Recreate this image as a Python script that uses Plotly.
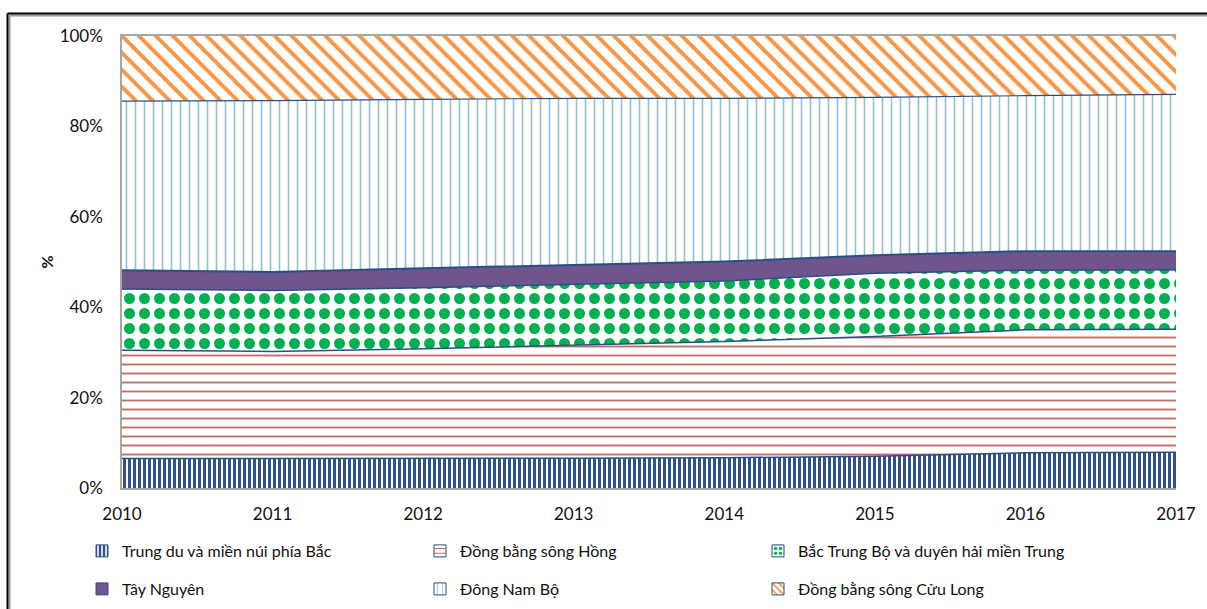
import plotly.graph_objects as go

years = [2010, 2011, 2012, 2013, 2014, 2015, 2016, 2017]

regions = [
    "Trung du và miền núi phía Bắc",
    "Đồng bằng sông Hồng",
    "Bắc Trung Bộ và duyên hải miền Trung",
    "Tây Nguyên",
    "Đông Nam Bộ",
    "Đồng bằng sông Cửu Long",
]

trung_du = [6.5, 6.5, 6.5, 6.6, 6.7, 7.0, 7.8, 7.9]
dong_bang_song_hong = [24.0, 23.7, 24.3, 25.0, 25.7, 26.5, 27.2, 27.2]
bac_trung_bo = [13.5, 13.5, 13.5, 13.5, 13.4, 14.0, 13.2, 13.2]
tay_nguyen = [4.2, 4.1, 4.3, 4.2, 4.3, 4.0, 4.2, 4.1]
dong_nam_bo = [37.4, 37.9, 37.4, 36.9, 36.1, 34.9, 34.4, 34.7]
cuu_long = [14.4, 14.3, 14.0, 13.8, 13.8, 13.6, 13.2, 12.9]

y_ticks = [0, 20, 40, 60, 80, 100]
y_ticktext = ["0%", "20%", "40%", "60%", "80%", "100%"]

series = [trung_du, dong_bang_song_hong, bac_trung_bo, tay_nguyen, dong_nam_bo, cuu_long]

FONT = "Lato"
EDGE = "#2B4F83"
TXT = "#111111"

patterns = [
    dict(shape="|", fgcolor="#2E5290", bgcolor="white", size=5, solidity=0.6, fillmode="replace"),
    dict(shape="-", fgcolor="#C26A68", bgcolor="white", size=9, solidity=0.2, fillmode="replace"),
    dict(shape=".", fgcolor="#00B050", bgcolor="white", size=15, solidity=0.42, fillmode="replace"),
    None,
    dict(shape="|", fgcolor="#92C3D1", bgcolor="white", size=9, solidity=0.18, fillmode="replace"),
    dict(shape="\\", fgcolor="#F79646", bgcolor="white", size=12, solidity=0.33, fillmode="replace"),
]
solid_fill = [None, None, None, "#6F558E", None, None]
edges = [
    dict(color=EDGE, width=1.5),
    dict(color=EDGE, width=1.5),
    dict(color=EDGE, width=1.5),
    dict(color=EDGE, width=2),
    dict(color=EDGE, width=1.2),
    dict(color="rgba(0,0,0,0)", width=0),
]
legend_ids = ["legend", "legend", "legend", "legend2", "legend2", "legend2"]

fig = go.Figure()
for name, vals, pat, sf, ln in zip(regions, series, patterns, solid_fill, edges):
    kw = dict(x=years, y=vals, name=name, mode="lines", stackgroup="one", line=ln, showlegend=False)
    if pat is not None:
        kw["fillpattern"] = pat
    if sf is not None:
        kw["fillcolor"] = sf
    fig.add_trace(go.Scatter(**kw))

# legend entries (square swatches)
for name, pat, sf, lg in zip(regions, patterns, solid_fill, legend_ids):
    mk = dict(line=dict(color=EDGE, width=1))
    if pat is not None:
        p = dict(pat)
        p["size"] = min(p["size"], 6)
        mk["pattern"] = p
        mk["color"] = "white"
    if sf is not None:
        mk["color"] = sf
    fig.add_trace(go.Bar(x=[None], y=[None], name=name, marker=mk, legend=lg, showlegend=True))

L, R, T, B = 122, 31, 36, 121
W, H = 1207, 609
pw, ph = W - L - R, H - T - B

def px(xp):
    return (xp - L) / pw

def py(yp):
    return (H - B - yp) / ph

leg_common = dict(orientation="h", xanchor="left", yanchor="middle",
                  entrywidth=293, entrywidthmode="pixels", itemwidth=30,
                  font=dict(family=FONT, size=16, color=TXT), traceorder="normal",
                  bgcolor="rgba(0,0,0,0)")

fig.update_layout(
    width=W, height=H,
    margin=dict(l=L, r=R, t=T, b=B, autoexpand=False),
    paper_bgcolor="white", plot_bgcolor="white",
    font=dict(family=FONT, size=16, color=TXT),
    showlegend=True,
    barmode="overlay",
    legend=dict(x=px(82), y=py(551), **leg_common),
    legend2=dict(x=px(82), y=py(589), **leg_common),
    xaxis=dict(range=[2010, 2017], tickvals=years, ticktext=[str(y) for y in years],
               showgrid=False, zeroline=False, showline=True, linecolor="#A6A6A6", linewidth=1.5,
               mirror=True, ticks="", ticklabelstandoff=10,
               tickfont=dict(family=FONT, size=17, color=TXT)),
    yaxis=dict(range=[0, 100], tickmode="array", tickvals=y_ticks, ticktext=y_ticktext,
               showgrid=False, zeroline=False, showline=True, linecolor="#A6A6A6", linewidth=1.5,
               ticks="", ticklabelstandoff=14,
               title=dict(text="<b>%</b>", standoff=2, font=dict(family=FONT, size=16, color=TXT)),
               tickfont=dict(family=FONT, size=17, color=TXT)),
    shapes=[
        dict(type="line", xref="paper", yref="paper", x0=px(9.5), x1=px(1207), y0=py(15.5), y1=py(15.5),
             line=dict(color="#9A9A9A", width=2), layer="above"),
        dict(type="line", xref="paper", yref="paper", x0=px(9.5), x1=px(9.5), y0=py(15.5), y1=py(609),
             line=dict(color="#9A9A9A", width=2), layer="above"),
        dict(type="line", xref="paper", yref="paper", x0=px(7.5), x1=px(1207), y0=py(13.5), y1=py(13.5),
             line=dict(color="black", width=2), layer="above"),
        dict(type="line", xref="paper", yref="paper", x0=px(7.5), x1=px(7.5), y0=py(13.5), y1=py(609),
             line=dict(color="black", width=2), layer="above"),
    ],
)

fig.write_html("out.html")
